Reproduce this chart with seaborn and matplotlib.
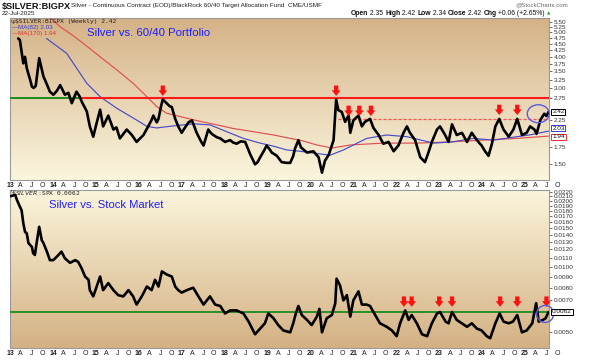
import numpy as np
import matplotlib
matplotlib.use("Agg")
import matplotlib.pyplot as plt
import matplotlib.transforms as mtrans
from matplotlib.patches import Ellipse
from matplotlib.colors import LinearSegmentedColormap
import seaborn as sns

# ---------------- data ----------------
top_t = [2013.19, 2013.23, 2013.31, 2013.35, 2013.39, 2013.47, 2013.51, 2013.55, 2013.60, 2013.64,
         2013.68, 2013.74, 2013.78, 2013.85, 2013.93, 2014.01, 2014.09, 2014.17, 2014.28, 2014.36,
         2014.44, 2014.55, 2014.62, 2014.67, 2014.79, 2014.86, 2014.94, 2015.02, 2015.10, 2015.17,
         2015.29, 2015.41, 2015.48, 2015.56, 2015.64, 2015.72, 2015.84, 2015.95, 2016.03, 2016.11,
         2016.22, 2016.30, 2016.34, 2016.42, 2016.46, 2016.52, 2016.56, 2016.65, 2016.72, 2016.77,
         2016.85, 2016.92, 2017.00, 2017.08, 2017.16, 2017.24, 2017.35, 2017.45, 2017.51, 2017.58,
         2017.62, 2017.70, 2017.74, 2017.82, 2017.90, 2018.01, 2018.13, 2018.20, 2018.28, 2018.38,
         2018.48, 2018.55, 2018.60, 2018.71, 2018.77, 2018.83, 2018.92, 2018.98, 2019.05, 2019.10,
         2019.22, 2019.33, 2019.45, 2019.53, 2019.60, 2019.64, 2019.72, 2019.78, 2019.92, 2020.07,
         2020.19, 2020.27, 2020.34, 2020.43, 2020.54, 2020.60, 2020.65, 2020.73, 2020.81, 2020.89,
         2020.93, 2021.00, 2021.12, 2021.20, 2021.27, 2021.39, 2021.47, 2021.59, 2021.70, 2021.82,
         2021.94, 2022.05, 2022.17, 2022.25, 2022.32, 2022.44, 2022.56, 2022.67, 2022.75, 2022.83,
         2022.95, 2023.02, 2023.14, 2023.22, 2023.30, 2023.41, 2023.53, 2023.65, 2023.76, 2023.88,
         2023.99, 2024.07, 2024.15, 2024.23, 2024.31, 2024.40, 2024.50, 2024.62, 2024.73, 2024.82,
         2024.93, 2025.04, 2025.12, 2025.22, 2025.27, 2025.36, 2025.45, 2025.50, 2025.55]
top_v = [4.73, 4.66, 3.77, 4.00, 3.61, 3.24, 3.05, 3.01, 3.07, 3.48,
         3.95, 3.58, 3.34, 3.14, 2.91, 2.83, 2.93, 3.09, 2.83, 2.88,
         2.62, 2.91, 2.79, 2.66, 2.43, 2.12, 1.93, 2.19, 2.47, 2.12,
         2.34, 2.06, 2.10, 1.90, 1.98, 2.06, 1.96, 1.84, 1.90, 1.96,
         2.12, 2.25, 2.34, 2.20, 2.27, 2.55, 2.71, 2.62, 2.55, 2.53,
         2.27, 2.12, 2.00, 2.10, 2.20, 2.24, 2.00, 1.85, 1.78, 1.95,
         2.06, 1.98, 1.96, 1.92, 1.90, 1.84, 1.87, 1.83, 1.81, 1.85,
         1.84, 1.72, 1.64, 1.50, 1.53, 1.60, 1.70, 1.78, 1.72, 1.67,
         1.62, 1.53, 1.52, 1.52, 1.62, 1.73, 1.87, 1.75, 1.67, 1.69,
         1.60, 1.39, 1.55, 1.64, 1.87, 2.71, 2.46, 2.42, 2.21, 2.34,
         2.00, 2.24, 2.34, 2.12, 2.21, 2.27, 2.09, 1.96, 1.81, 1.84,
         1.69, 1.78, 2.00, 2.12, 2.00, 1.87, 1.60, 1.53, 1.67, 1.84,
         2.06, 2.12, 1.96, 1.84, 2.16, 1.96, 2.00, 1.84, 2.00, 1.87,
         1.78, 1.69, 1.62, 1.81, 2.12, 2.27, 2.06, 1.93, 2.06, 2.27,
         1.96, 2.00, 2.12, 2.06, 1.98, 2.25, 2.38, 2.33, 2.42]

ma82_t = [2013.85, 2014.32, 2014.79, 2015.10, 2015.49, 2015.87, 2016.19, 2016.42, 2016.81, 2017.27,
          2017.66, 2018.05, 2018.44, 2018.83, 2019.14, 2019.45, 2019.76, 2020.10, 2020.46, 2020.77,
          2021.31, 2021.78, 2022.25, 2022.87, 2023.30, 2023.80, 2024.27, 2024.81, 2025.10, 2025.55]
ma82_v = [4.73, 4.13, 3.14, 2.78, 2.50, 2.29, 2.12, 2.09, 2.13, 2.17,
          2.15, 2.02, 1.90, 1.82, 1.77, 1.71, 1.69, 1.66, 1.63, 1.71,
          1.90, 1.96, 1.93, 1.82, 1.84, 1.90, 1.87, 1.93, 1.96, 2.03]

ma170_t = [2013.95, 2014.17, 2014.45, 2014.71, 2015.10, 2015.49, 2015.87, 2016.19, 2016.42, 2016.65,
           2016.96, 2017.43, 2017.82, 2018.20, 2018.67, 2019.14, 2019.53, 2019.76, 2020.15, 2020.50,
           2020.93, 2021.70, 2022.47, 2023.25, 2024.00, 2024.80, 2025.55]
ma170_v = [5.70, 5.26, 4.88, 4.52, 4.00, 3.55, 3.14, 2.78, 2.54, 2.39,
           2.32, 2.22, 2.15, 2.08, 2.02, 1.96, 1.90, 1.87, 1.79, 1.74,
           1.79, 1.82, 1.82, 1.84, 1.87, 1.90, 1.94]

spx_t = [2013.02, 2013.12, 2013.16, 2013.23, 2013.27, 2013.31, 2013.35, 2013.39, 2013.43, 2013.51,
         2013.54, 2013.58, 2013.62, 2013.68, 2013.74, 2013.78, 2013.86, 2013.93, 2014.01, 2014.13,
         2014.20, 2014.28, 2014.40, 2014.52, 2014.59, 2014.67, 2014.75, 2014.83, 2014.86, 2014.94,
         2015.02, 2015.10, 2015.17, 2015.29, 2015.41, 2015.52, 2015.64, 2015.76, 2015.87, 2015.95,
         2016.07, 2016.19, 2016.30, 2016.38, 2016.46, 2016.54, 2016.65, 2016.77, 2016.85, 2016.92,
         2017.00, 2017.12, 2017.27, 2017.39, 2017.51, 2017.66, 2017.78, 2017.90, 2018.01, 2018.13,
         2018.28, 2018.44, 2018.56, 2018.71, 2018.83, 2018.94, 2019.02, 2019.14, 2019.25, 2019.37,
         2019.53, 2019.60, 2019.66, 2019.72, 2019.80, 2019.92, 2020.03, 2020.15, 2020.21, 2020.27,
         2020.38, 2020.50, 2020.58, 2020.61, 2020.69, 2020.77, 2020.85, 2020.93, 2021.00, 2021.12,
         2021.20, 2021.31, 2021.39, 2021.51, 2021.62, 2021.78, 2021.90, 2022.01, 2022.09, 2022.21,
         2022.29, 2022.36, 2022.48, 2022.60, 2022.72, 2022.83, 2022.95, 2023.02, 2023.15, 2023.22,
         2023.30, 2023.41, 2023.53, 2023.65, 2023.76, 2023.88, 2023.99, 2024.11, 2024.19, 2024.31,
         2024.41, 2024.50, 2024.62, 2024.72, 2024.82, 2024.93, 2025.04, 2025.17, 2025.26, 2025.32,
         2025.42, 2025.48, 2025.55]
spx_v = [0.0210, 0.0213, 0.0202, 0.0188, 0.0181, 0.0158, 0.0144, 0.0142, 0.0128, 0.0123,
         0.0115, 0.0113, 0.0128, 0.0152, 0.0132, 0.0128, 0.0117, 0.0107, 0.0107, 0.0113,
         0.0117, 0.0109, 0.0104, 0.0107, 0.0105, 0.0098, 0.0090, 0.0087, 0.0078, 0.0073,
         0.0081, 0.0090, 0.0078, 0.0084, 0.0078, 0.0074, 0.0073, 0.0078, 0.0073, 0.0067,
         0.0073, 0.0081, 0.0078, 0.0087, 0.0081, 0.0095, 0.0092, 0.0090, 0.0081, 0.0078,
         0.0076, 0.0078, 0.0080, 0.0073, 0.0067, 0.0073, 0.0067, 0.0066, 0.0061, 0.0063,
         0.0063, 0.0061, 0.0056, 0.0049, 0.0052, 0.0055, 0.0061, 0.0058, 0.0054, 0.0051,
         0.0050, 0.0055, 0.0061, 0.0066, 0.0060, 0.0057, 0.0054, 0.0059, 0.0064, 0.0050,
         0.0058, 0.0060, 0.0068, 0.0088, 0.0082, 0.0070, 0.0074, 0.0059, 0.0070, 0.0077,
         0.0067, 0.0067, 0.0066, 0.0060, 0.0055, 0.0053, 0.0051, 0.0048, 0.0055, 0.0063,
         0.0057, 0.0060, 0.0055, 0.0049, 0.0048, 0.0055, 0.0061, 0.0062, 0.0056, 0.0055,
         0.0062, 0.0057, 0.0055, 0.0053, 0.0055, 0.0052, 0.0051, 0.0048, 0.0047, 0.0055,
         0.0061, 0.0056, 0.0055, 0.0056, 0.0060, 0.0050, 0.0051, 0.0055, 0.0068, 0.0056,
         0.0057, 0.0058, 0.0062]

top_level_line = 2.75
top_dash_level = 2.26
top_dash_start = 2020.65
green_end_top = 2014.63
low_level_line = 0.0062

top_arrows_t = [2016.56, 2020.60, 2020.89, 2021.14, 2021.41, 2024.40, 2024.82]
top_arrows_v = [2.80, 2.80, 2.33, 2.33, 2.33, 2.35, 2.35]
low_arrows_t = [2022.18, 2022.36, 2023.00, 2023.30, 2024.42, 2024.82, 2025.50]
low_arrows_v = [0.00654] * 7

top_yticks = [5.50, 5.25, 5.00, 4.75, 4.50, 4.25, 4.00, 3.75, 3.50, 3.25, 3.00, 2.75, 2.25,
              1.75, 1.50]
low_yticks = [0.0220, 0.0210, 0.0200, 0.0190, 0.0180, 0.0170, 0.0160, 0.0150, 0.0140, 0.0130,
              0.0120, 0.0110, 0.0100, 0.0090, 0.0080, 0.0070, 0.0050]
years = list(range(2013, 2026))
quarter_labels = ['A', 'J', 'O']

# ---------------- figure ----------------
sns.set_style("white")
plt.rcParams['font.family'] = ['Liberation Sans', 'DejaVu Sans']

W, H = 600, 360
fig = plt.figure(figsize=(6, 3.6), dpi=100)
fig.patch.set_facecolor('white')


def rect(x0, y0, x1, y1):
    return [x0 / W, 1 - y1 / H, (x1 - x0) / W, (y1 - y0) / H]


def bg(r, top, bottom):
    b = fig.add_axes(r, zorder=0)
    cmap = LinearSegmentedColormap.from_list('g', [bottom, top])
    b.imshow(np.linspace(0, 1, 256).reshape(-1, 1), cmap=cmap, aspect='auto',
             origin='lower', extent=[0, 1, 0, 1])
    b.set_axis_off()
    return b


R1 = rect(10, 18, 549, 180)
R2 = rect(10, 190, 549, 348)
bg(R1, '#d4b287', '#fbf6de')
bg(R2, '#fbf5dc', '#d4b184')
ax1 = fig.add_axes(R1, zorder=1)
ax2 = fig.add_axes(R2, zorder=1)
XL = (2013.0, 2025.56)

for ax in (ax1, ax2):
    ax.patch.set_alpha(0)
    ax.set_yscale('log')
    ax.set_xlim(*XL)
    for s in ax.spines.values():
        s.set_color('#9a9a9a')
        s.set_linewidth(0.8)
    ax.grid(False)

# series
sns.lineplot(x=ma170_t, y=ma170_v, ax=ax1, color='#e05050', lw=0.85, estimator=None, sort=False, zorder=3)
sns.lineplot(x=ma82_t, y=ma82_v, ax=ax1, color='#4a4ac8', lw=0.85, estimator=None, sort=False, zorder=3)
sns.lineplot(x=top_t, y=top_v, ax=ax1, color='black', lw=1.9, estimator=None, sort=False, zorder=5)
sns.lineplot(x=spx_t, y=spx_v, ax=ax2, color='black', lw=1.9, estimator=None, sort=False, zorder=5)

ax1.set_ylim(1.30, 5.70)
ax2.set_ylim(0.00424, 0.0224)
ax1.set_xlim(*XL)
ax2.set_xlim(*XL)

# horizontal lines
ax1.plot([XL[0], green_end_top], [top_level_line] * 2, color='#1c8c1c', lw=1.4, zorder=4)
ax1.plot([green_end_top, XL[1]], [top_level_line] * 2, color='#ff1a1a', lw=1.5, zorder=4)
ax1.plot([top_dash_start, XL[1]], [top_dash_level] * 2, color='#ff5050', lw=0.9,
         dashes=(2.5, 1.5), zorder=4)
ax2.plot(list(XL), [low_level_line] * 2, color='#1c8c1c', lw=1.3, zorder=4)


# arrows
def arrow(ax, t, v):
    ax.annotate('', xy=(t, v), xytext=(0, 7.5), textcoords='offset points',
                arrowprops=dict(arrowstyle='simple,head_length=0.45,head_width=0.7,tail_width=0.34',
                                fc='#ff1010', ec='#ff1010', lw=0, shrinkA=0, shrinkB=0,
                                mutation_scale=9), zorder=8)


for t, v in zip(top_arrows_t, top_arrows_v):
    arrow(ax1, t, v)
for t, v in zip(low_arrows_t, low_arrows_v):
    arrow(ax2, t, v)


# ellipses (pixel sized)
def ell(ax, t, v, wpx, hpx, axw, axh):
    fig.canvas.draw()
    cx, cy = ax.transAxes.inverted().transform(ax.transData.transform((t, v)))
    e = Ellipse((cx, cy), wpx / axw, hpx / axh, transform=ax.transAxes, fill=False,
                ec='#5a5ae0', lw=1.0, zorder=9, clip_on=False)
    ax.add_patch(e)


ell(ax1, 2025.31, 2.38, 22, 18, 539, 162)
ell(ax2, 2025.47, 0.00607, 17, 17, 539, 158)

# x ticks
ticks, labs = [], []
for y in years:
    ticks.append(y); labs.append(str(y)[2:])
    for q, lab in enumerate(quarter_labels):
        ticks.append(y + 0.25 * (q + 1)); labs.append(lab)
for ax in (ax1, ax2):
    keep = [(t, l) for t, l in zip(ticks, labs) if t <= XL[1]]
    ax.set_xticks([k[0] for k in keep])
    tl = ax.set_xticklabels([k[1] for k in keep])
    for t in tl:
        if t.get_text().isdigit():
            t.set_fontweight('bold')
    ax.tick_params(axis='x', labelsize=5, pad=1.5, length=0, colors='#222222')
    blend = mtrans.blended_transform_factory(ax.transData, ax.transAxes)
    ax.annotate('O', xy=(2025.75, 0), xycoords=blend, xytext=(0, -1.5), textcoords='offset points',
                ha='center', va='top', fontsize=5, color='#222222', annotation_clip=False)

# y ticks (right)
for ax, yt, fmt in ((ax1, top_yticks, '{:.2f}'), (ax2, low_yticks, '{:.4f}')):
    ax.yaxis.tick_right()
    ax.yaxis.set_minor_locator(matplotlib.ticker.NullLocator())
    ax.set_yticks(yt)
    ax.set_yticklabels([fmt.format(v) for v in yt])
    ax.yaxis.set_minor_formatter(matplotlib.ticker.NullFormatter())
    ax.tick_params(axis='y', labelsize=4.6, length=2, width=0.5, pad=1.5, colors='#333333')
    ax.set_xlabel('')
    ax.set_ylabel('')


# value boxes on the right axis (small vertical nudges keep stacked boxes apart)
def vbox(ax, v, txt, ec, dy=0.0):
    tr = mtrans.blended_transform_factory(ax.transAxes, ax.transData)
    ax.annotate(txt, xy=(1.006, v), xycoords=tr, xytext=(0, dy), textcoords='offset points',
                fontsize=4.6, va='center', ha='left', color='#111111',
                bbox=dict(boxstyle='square,pad=0.12', fc='white', ec=ec, lw=0.7),
                zorder=20, annotation_clip=False)


vbox(ax1, 2.42, '2.42', 'black')
vbox(ax1, 2.03, '2.03', '#3a3ad0', dy=2.2)
vbox(ax1, 1.94, '1.94', '#e03030', dy=-0.6)
vbox(ax2, 0.0062, '0.0062', 'black')


# ---------------- texts ----------------
def ftxt(x, y, s, **kw):
    return fig.text(x / W, 1 - y / H, s, **kw)


ftxt(2, 6, '$SILVER:BIGPX', fontsize=6.6, fontweight='bold', va='center', ha='left', color='#111111')
ftxt(71, 6, 'Silver - Continuous Contract (EOD)/BlackRock 60/40 Target Allocation Fund  CME/USMF',
     fontsize=4.6, va='center', ha='left', color='#222222')
ftxt(2, 13.5, '22-Jul-2025', fontsize=4.6, va='center', ha='left', color='#222222')
ftxt(568, 5, '@StockCharts.com', fontsize=4.4, va='center', ha='right', color='#666666')

# OHLC line (right aligned to x=545)
pieces = [('Open', True), (' 2.35 ', False), ('High', True), (' 2.42 ', False), ('Low', True),
          (' 2.34 ', False), ('Close', True), (' 2.42 ', False), ('Chg', True),
          (' +0.06 (+2.65%)', False)]
fig.canvas.draw()
rend = fig.canvas.get_renderer()
objs = []
x = 0.0
for s, b in pieces:
    t = ftxt(x, 13.5, s, fontsize=4.9, fontweight='bold' if b else 'normal', va='center',
             ha='left', color='#111111')
    w = t.get_window_extent(rend).width
    objs.append((t, x))
    x += w
start = 545 - x
for t, x0 in objs:
    t.set_x((start + x0) / W)
ftxt(546.5, 13.5, '\u25b2', fontsize=3.2, va='center', ha='left', color='#1a9a1a',
     family='DejaVu Sans')

# in-panel legends
ftxt(10.5, 22, '\u03a8', fontsize=4.2, va='center', ha='left', color='#333333', family='DejaVu Sans')
ftxt(15, 22, '$SILVER:BIGPX (Weekly) 2.42', fontsize=4.5, va='center', ha='left',
     color='#222222', family='DejaVu Sans Mono')
ftxt(12, 27.5, '\u2014', fontsize=4.5, va='center', ha='left', color='#3a3ad0')
ftxt(18, 27.5, 'MA(82) 2.03', fontsize=4.5, va='center', ha='left', color='#3a3ad0')
ftxt(12, 33.5, '\u2014', fontsize=4.5, va='center', ha='left', color='#e03030')
ftxt(18, 33.5, 'MA(170) 1.94', fontsize=4.5, va='center', ha='left', color='#e03030')
ftxt(87, 32.5, 'Silver vs. 60/40 Portfolio', fontsize=8.2, va='center', ha='left', color='#1e1eff')

ftxt(10.5, 193, '\u03a8', fontsize=4.2, va='center', ha='left', color='#333333', family='DejaVu Sans')
ftxt(15, 193, '$SILVER:$SPX 0.0062', fontsize=4.5, va='center', ha='left',
     color='#222222', family='DejaVu Sans Mono')
ftxt(49, 205.5, 'Silver vs. Stock Market', fontsize=8.1, va='center', ha='left', color='#1e1eff')

fig.savefig('out.png', dpi=100)
